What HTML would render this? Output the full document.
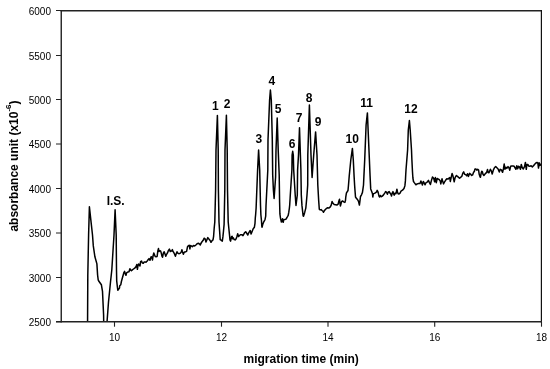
<!DOCTYPE html>
<html><head><meta charset="utf-8"><title>chromatogram</title><style>
html,body{margin:0;padding:0;background:#fff;}
body{width:550px;height:369px;overflow:hidden;}
svg{display:block;}
text{font-family:"Liberation Sans",sans-serif;fill:#000;}
.t{font-size:10px;}
.b{font-size:11px;font-weight:bold;}
.p{font-size:12px;font-weight:bold;}
</style></head><body>
<svg width="550" height="369" viewBox="0 0 550 369">
<defs><clipPath id="c"><rect x="61" y="10" width="481" height="311.6"/></clipPath></defs>
<polyline clip-path="url(#c)" fill="none" stroke="#000" stroke-width="1.5" stroke-linejoin="round" stroke-linecap="round" points="87.5,335 87.8,275 88.6,235 89.4,206.8 92.5,235 93.3,245.9 94.9,256.8 96.9,263.9 97.6,275 98.2,279.9 98.7,281 101.4,284.8 102.5,291.4 103.6,315 103.9,335 107,335 107.1,321 108.5,302 110.5,282 111.8,270 114,235 115.1,209.7 116.2,235 116.5,270 116.7,280.9 117.5,288 117.8,290.2 119.5,288 119.7,285.8 120.8,284.7 121.4,281.5 122.5,277.5 124,272.3 124.6,271.4 125.4,274.1 126,275.3 126.6,272.9 127.8,272 129,271.7 129.9,268.7 130.5,269.9 131.4,270.8 132.3,269.9 133.5,269 134.7,268.1 135.9,266.9 136.8,264.5 137.4,269.3 138,265.7 138.6,263.9 139.2,265.1 140,266 140.6,261.6 141.5,261 142.4,263 143.3,263.3 144.2,261.9 145.1,261.9 146,262.2 147.2,261 148.1,259.8 149,258.6 150,260.3 151.1,256.7 151.9,257.3 152.5,260 153,256.2 153.8,252.9 154.4,254.5 155.2,256.5 156,256.7 157.1,256.5 157.9,250.7 158.5,248.5 159,251.5 159.8,250.7 160.6,250.9 161.2,252.9 162,256.2 162.5,257.3 163.4,252.9 164.2,251.8 165,254 165.8,256.2 166.6,254.3 167.5,252.9 168.3,250.7 169.4,249.1 170.2,251.5 171,251 171.8,251 172.4,249.6 172.9,251.3 173.7,252.4 174.5,254 175.4,256.2 176.2,253.7 177,251.8 177.5,252.9 178.4,253.5 179.2,253.7 180.4,253.1 181.3,251.9 181.9,249.8 182.5,251.9 183.4,254.3 184.3,251.9 185.4,251.9 186.6,251.3 187.5,246.8 188.4,245.6 189.3,245.3 189.9,248.9 190.5,245.6 191.4,245.9 192.3,246.8 193.5,245.6 194.7,245.9 195.9,245 197.1,243.8 198.6,243.2 199.5,244.1 200.3,245 200.9,243.5 201.8,242 203,240.6 204.2,238.2 205.1,238.8 206,242 206.9,239.7 207.8,237.6 208.7,238.8 210.1,240.5 211,242.3 211.9,240.8 213,239.9 213.6,236.3 214.2,228 214.8,222 215.6,190 216,150 217.4,115.4 218.2,150 218.4,190 219,222 219.6,230.9 220.2,239.6 221.1,240.2 222.3,241.1 222.9,236.9 223.5,231 224.1,224.4 224.8,190 225,150 226.4,115.2 227.2,150 227.5,190 228.2,222 228.8,228 229.4,233.9 230,239.9 230.6,241.1 231.5,236.9 232.1,236.3 232.7,238.7 233.3,237.8 234.2,239.6 235.1,239.9 236,239 236.8,237 237.7,233.8 238.6,236.5 239.5,235.5 240.4,234.7 241.9,234.7 243,235.6 244.5,232.9 245.7,231.7 246.9,233.5 247.8,235 249,232.3 250.2,230.5 251.1,234.1 252,231.7 253.2,228.7 254.4,227.2 255,223.3 255.3,218 255.6,215 256.1,208.3 257.6,170 258.6,150.1 259.7,170 260.5,205 260.9,215 261.5,221 261.8,226.3 262.1,227.2 262.7,224.5 263.6,222.2 264.5,220.7 265.1,219.2 265.7,216.2 266,205.9 267.8,170 268,140 269.6,100 270.4,90.1 271.3,100 272.3,140 272.7,175 273.4,190 274.1,198.4 275.6,177 276,150 277.2,118 278.2,150 279.2,175 279.6,202 279.9,213.9 280.5,218.1 281.4,222 282,220.5 282.6,218.7 283.2,222.3 283.7,219.9 284.6,219.6 285.8,219.3 287,217.5 288.2,215.4 288.8,212.2 289.4,208 289.7,205 290.3,195 291.9,170 292.1,155 292.7,151.3 293.3,155 293.7,170 295.2,195 296,205.4 297.3,195 297.6,170 298.5,155 299.5,127.8 300.4,155 300.9,170 301.3,195 302,205.9 303.1,215.7 303.5,216.2 304.7,212.4 305.8,208.1 306.3,203 307,195 307.7,185 307.8,155 309.4,104.9 311,155 312.1,177.4 313.7,155 315.6,131.9 317,155 317.8,185 318.7,200.9 319.3,209.3 320.2,209.9 321.1,209.6 322,210.5 322.9,211.1 323.4,212.3 324.3,210.8 325.8,209 327.3,207.8 328.8,208.1 330.3,206.9 331.2,205.1 332.1,201.5 333,203.3 334.2,204.5 335.7,204.8 336.9,205.1 338.1,204.2 338.9,200.9 339.5,199.2 339.8,202.1 340.4,206 341,203.9 341.6,201.5 342.5,200.9 343.7,201.8 344.9,202.4 345.5,200.3 345.8,196.8 346.4,193.2 346.8,192.4 348,190.5 348.5,185 349.2,176.4 350.8,160 352.4,148.4 353.3,160 354.1,176.4 354.6,185 355,190.5 355.5,197 356.4,198.4 357.5,199.5 358.5,201.4 359.4,205.1 359.9,201.4 360.5,196.5 361.5,194.8 362.4,192.6 362.9,189.4 363.5,185 363.9,176.4 364.7,160 366.1,125 367.4,112.9 367.9,125 369.4,160 370.1,176.4 370.7,188.9 371.6,191.3 372.5,193.7 372.8,197 373.4,193.7 374.3,193.4 375.4,192.8 376.6,191.9 377.2,190.4 378.1,192.2 379,196.1 379.6,197 380.5,195.5 381.4,196.7 382.3,196.1 383.5,194.9 384.7,193.1 385.6,191.6 386.5,192.2 387.4,194.3 388.3,191.9 389.2,191.6 389.8,192.8 390.3,193.4 390.9,194.3 391.5,196.1 392.1,193.4 393,191.6 393.6,194 394.2,195.2 395.1,193.1 396,193.7 396.9,189.2 397.5,191.9 398.1,193.7 399,194 400,193.2 401,191.1 402.5,190.2 404,188.4 404.9,185.7 405.4,180.9 405.7,175 406,170 406.8,160 407.6,150 408.3,130 409.4,120.6 410.2,130 411.5,150 411.9,160 412.5,172 412.9,178 413.5,181.5 414.1,182.4 415,183.6 415.9,184.8 417.1,183.9 418.6,183.6 420,183.6 420.9,180.9 421.8,183.3 422.4,185.1 423.3,181.5 424.2,183 425.1,184.8 426,182.7 427.2,182.1 428.4,180.3 429.3,182.4 430.4,184.5 431.3,180.9 432.5,177 433.7,178.2 434.6,181.8 435.4,177.6 436.3,182.7 437.2,178.5 438.4,179.1 439.3,179.7 440.2,180.9 440.8,183.9 442,178.8 442.6,180.9 443.5,183.9 444.4,182.1 445.6,180.3 446.8,178.8 448,179.1 448.9,178.2 449.8,177.6 450.3,181.5 451.2,177.3 452.1,173.4 453,176.1 454.2,181.8 455.1,177.6 456.3,175.5 457.5,176.4 459.5,178.2 460.7,177.3 461.9,176.1 462.8,173.1 463.7,171.9 464.6,174.3 465.7,174.6 466.6,175.8 467.5,173.7 468.4,176.4 469.6,173.4 470.5,174 471.7,175.5 472.6,174.9 473.5,172.5 474.4,171.3 475,168.9 475.9,168.9 476.8,170.1 477.7,169.2 478.6,170.1 479.2,174.3 479.8,176.1 480.4,177.3 481.2,173.1 481.8,171.3 482.4,171.9 483,174.3 483.9,175.5 484.8,174.3 486,173.1 486.9,171.6 487.5,169.5 488.1,172.5 489,172.8 490.4,169.3 491.3,170.8 492.2,174.1 493.4,169.9 494.6,167.5 495.7,166.6 496.9,167.8 498.1,169 499.3,172 500.2,169.3 501.4,169.9 502.6,172.3 503.5,168.4 504.2,163.9 505,169.3 505.9,167.2 506.8,168.4 508,166.6 508.9,167.8 509.8,170.2 510.6,166.3 511.8,166 513,166 514.2,166.3 515.9,169.3 516.8,165.7 517.7,168.7 518.6,166.3 519.5,166.9 520.4,169.3 521.3,164.5 522.2,167.5 523.3,169 524.5,166.6 525.4,162.4 526.3,169.3 526.9,164.5 527.8,164.5 528.7,166 529.9,166.3 531.1,165.7 532.3,166.9 533.5,165.7 534.7,164.2 535.9,163 537,162.4 537.9,163.3 538.5,168.1 539.1,162.7 540,165.4 540.6,164.2 541.2,165.1 541.6,164.5"/>
<g stroke="#222" fill="none">
<line x1="60.5" y1="10.7" x2="542" y2="10.7" stroke-width="1.4"/>
<line x1="541.4" y1="10" x2="541.4" y2="322.4" stroke-width="1.2" stroke="#111"/>
<line x1="61.25" y1="10" x2="61.25" y2="322.4" stroke-width="1.4"/>
<line x1="56" y1="321.75" x2="542" y2="321.75" stroke-width="1.4"/>
<line x1="56" y1="10.5" x2="61" y2="10.5" stroke-width="1"/>
<line x1="56" y1="55.5" x2="61" y2="55.5" stroke-width="1"/>
<line x1="56" y1="99.5" x2="61" y2="99.5" stroke-width="1"/>
<line x1="56" y1="144.0" x2="61" y2="144.0" stroke-width="1"/>
<line x1="56" y1="188.5" x2="61" y2="188.5" stroke-width="1"/>
<line x1="56" y1="233.0" x2="61" y2="233.0" stroke-width="1"/>
<line x1="56" y1="277.5" x2="61" y2="277.5" stroke-width="1"/>
<line x1="56" y1="321.7" x2="61" y2="321.7" stroke-width="1"/>
<line x1="114.5" y1="321.7" x2="114.5" y2="326.7" stroke-width="1.1"/>
<line x1="221.5" y1="321.7" x2="221.5" y2="326.7" stroke-width="1.1"/>
<line x1="328.0" y1="321.7" x2="328.0" y2="326.7" stroke-width="1.1"/>
<line x1="434.7" y1="321.7" x2="434.7" y2="326.7" stroke-width="1.1"/>
<line x1="541.5" y1="321.7" x2="541.5" y2="326.7" stroke-width="1.1"/>
</g>
<text class="t" x="51" y="14.8" text-anchor="end">6000</text>
<text class="t" x="51" y="59.8" text-anchor="end">5500</text>
<text class="t" x="51" y="103.8" text-anchor="end">5000</text>
<text class="t" x="51" y="148.3" text-anchor="end">4500</text>
<text class="t" x="51" y="192.8" text-anchor="end">4000</text>
<text class="t" x="51" y="237.3" text-anchor="end">3500</text>
<text class="t" x="51" y="281.8" text-anchor="end">3000</text>
<text class="t" x="51" y="326.0" text-anchor="end">2500</text>
<text class="t" x="114.5" y="341.1" text-anchor="middle">10</text>
<text class="t" x="221.5" y="341.1" text-anchor="middle">12</text>
<text class="t" x="328.0" y="341.1" text-anchor="middle">14</text>
<text class="t" x="434.7" y="341.1" text-anchor="middle">16</text>
<text class="t" x="541.5" y="341.1" text-anchor="middle">18</text>
<text class="b" style="font-size:12px" x="301.2" y="362.5" text-anchor="middle">migration time (min)</text>
<text class="b" style="font-size:12px" transform="translate(18,166) rotate(-90)" text-anchor="middle">absorbance unit (x10<tspan dy="-6.7" font-size="8">-6</tspan><tspan dy="6.7">)</tspan></text>
<text class="p" x="115.70" y="205.00" text-anchor="middle">I.S.</text>
<text class="p" x="215.35" y="109.75" text-anchor="middle">1</text>
<text class="p" x="227.00" y="108.40" text-anchor="middle">2</text>
<text class="p" x="258.90" y="142.60" text-anchor="middle">3</text>
<text class="p" x="271.85" y="84.80" text-anchor="middle">4</text>
<text class="p" x="278.15" y="113.20" text-anchor="middle">5</text>
<text class="p" x="292.00" y="147.95" text-anchor="middle">6</text>
<text class="p" x="299.15" y="121.55" text-anchor="middle">7</text>
<text class="p" x="309.10" y="101.60" text-anchor="middle">8</text>
<text class="p" x="318.00" y="125.70" text-anchor="middle">9</text>
<text class="p" x="352.30" y="143.30" text-anchor="middle">10</text>
<text class="p" x="366.65" y="106.85" text-anchor="middle">11</text>
<text class="p" x="411.00" y="112.80" text-anchor="middle">12</text>
</svg>
</body></html>
